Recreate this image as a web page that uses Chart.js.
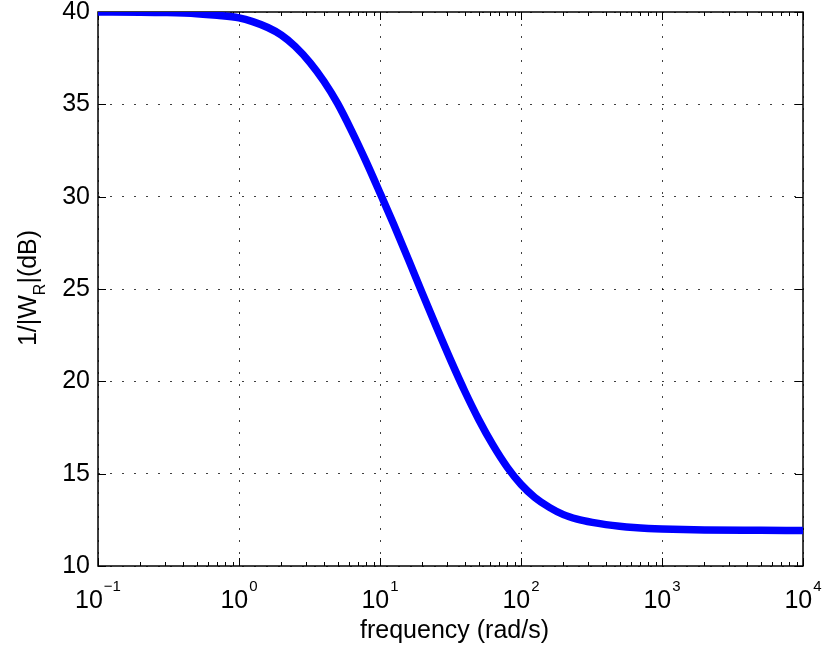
<!DOCTYPE html>
<html>
<head>
<meta charset="utf-8">
<script src="https://cdn.jsdelivr.net/npm/chart.js@4"></script>
<style>
    html, body { margin: 0; padding: 0; background: #fff; }
    canvas { display: block; }
</style>
</head>
<body>
<canvas id="myChart" width="824" height="648"></canvas>
<script>
// data
const freq = [0.1, 0.2, 0.3, 0.5, 0.7, 1, 1.25, 1.6, 2, 2.5, 3.2, 4, 5, 6.3, 8,
    10, 12.5, 16, 20, 25, 32, 40, 50, 63, 80,
    100, 125, 160, 200, 250, 320, 400, 500, 630, 800,
    1000, 2000, 5000, 10000];
const magDb = [40.0, 39.99, 39.97, 39.91, 39.82, 39.68, 39.48, 39.16, 38.75, 38.14, 37.25, 36.25, 35.05, 33.55, 31.87,
    30.2, 28.5, 26.55, 24.75, 22.98, 21.08, 19.45, 17.95, 16.57, 15.34,
    14.42, 13.72, 13.16, 12.78, 12.54, 12.36, 12.24, 12.15, 12.08, 12.03,
    12.0, 11.95, 11.93, 11.92];

const xTickValues = [0.1, 1, 10, 100, 1000, 10000];
const xTickExp = ['\u22121', '0', '1', '2', '3', '4'];
const yTickValues = [10, 15, 20, 25, 30, 35, 40];
const xTitle = 'frequency (rad/s)';
const yTitleParts = ['1/|W', 'R', '|(dB)'];

const FONT = '"Liberation Sans", Arial, Helvetica, sans-serif';

// box, inward ticks and the labels matlab style
const matlabAxes = {
    id: 'matlabAxes',
    beforeDatasetsDraw(chart) {
        const ctx = chart.ctx;
        const a = chart.chartArea;
        const xs = chart.scales.x;
        const ys = chart.scales.y;
        ctx.save();
        ctx.strokeStyle = '#000';
        ctx.lineWidth = 1.5;
        ctx.strokeRect(a.left, a.top, a.right - a.left, a.bottom - a.top);

        ctx.lineWidth = 1;
        ctx.beginPath();
        // x ticks, major and minor
        for (let i = 0; i < xTickValues.length; i++) {
            const base = xTickValues[i];
            for (let k = 1; k <= 9; k++) {
                const v = base * k;
                if (v > xTickValues[xTickValues.length - 1]) break;
                const px = Math.round(xs.getPixelForValue(v)) + 0.5;
                const len = k === 1 ? 8 : 4;
                ctx.moveTo(px, a.bottom);
                ctx.lineTo(px, a.bottom - len);
                ctx.moveTo(px, a.top);
                ctx.lineTo(px, a.top + len);
            }
        }
        // y ticks
        yTickValues.forEach(function (v) {
            const py = Math.round(ys.getPixelForValue(v)) + 0.5;
            ctx.moveTo(a.left, py);
            ctx.lineTo(a.left + 8, py);
            ctx.moveTo(a.right, py);
            ctx.lineTo(a.right - 8, py);
        });
        ctx.stroke();
        ctx.restore();
    },
    afterDraw(chart) {
        const ctx = chart.ctx;
        const a = chart.chartArea;
        const xs = chart.scales.x;
        ctx.save();
        ctx.fillStyle = '#000';
        ctx.textBaseline = 'alphabetic';
        ctx.textAlign = 'left';

        // x tick labels 10^n
        xTickValues.forEach(function (v, i) {
            const px = xs.getPixelForValue(v);
            ctx.font = '25px ' + FONT;
            const w1 = ctx.measureText('10').width;
            ctx.font = '15px ' + FONT;
            const w2 = ctx.measureText(xTickExp[i]).width;
            const x0 = px - (w1 + 1 + w2) / 2;
            ctx.font = '25px ' + FONT;
            ctx.fillText('10', x0, 608);
            ctx.font = '15px ' + FONT;
            ctx.fillText(xTickExp[i], x0 + w1 + 1, 591);
        });

        // x title
        ctx.font = '25px ' + FONT;
        ctx.textAlign = 'center';
        ctx.fillText(xTitle, (a.left + a.right) / 2 + 4, 638);

        // y title with subscript
        ctx.textAlign = 'left';
        ctx.translate(36, 288);
        ctx.rotate(-Math.PI / 2);
        ctx.font = '25px ' + FONT;
        const p0 = ctx.measureText(yTitleParts[0]).width;
        const p2 = ctx.measureText(yTitleParts[2]).width;
        ctx.font = '16px ' + FONT;
        const p1 = ctx.measureText(yTitleParts[1]).width;
        let x = -(p0 + p1 + p2) / 2;
        ctx.font = '25px ' + FONT;
        ctx.fillText(yTitleParts[0], x, 0);
        x += p0;
        ctx.font = '16px ' + FONT;
        ctx.fillText(yTitleParts[1], x, 9);
        x += p1;
        ctx.font = '25px ' + FONT;
        ctx.fillText(yTitleParts[2], x, 0);
        ctx.restore();
    }
};

const ctx = document.getElementById('myChart').getContext('2d');

const myChart = new Chart(ctx, {
    type: 'line',
    data: {
        datasets: [{
            data: freq.map((f, i) => ({ x: f, y: magDb[i] })),
            borderColor: '#0000ff',
            borderWidth: 7.5,
            pointRadius: 0,
            fill: false,
            cubicInterpolationMode: 'monotone'
        }]
    },
    options: {
        responsive: false,
        animation: false,
        devicePixelRatio: 1,
        layout: { padding: { top: 12, right: 21, left: 0, bottom: 0 } },
        plugins: {
            legend: { display: false },
            tooltip: { enabled: false }
        },
        scales: {
            x: {
                type: 'logarithmic',
                min: 0.1,
                max: 10000,
                afterBuildTicks: function (scale) {
                    scale.ticks = xTickValues.map(v => ({ value: v }));
                },
                afterFit: function (scale) {
                    scale.height = 82;
                    scale.paddingLeft = 0;
                    scale.paddingRight = 0;
                },
                ticks: { display: false },
                grid: { color: 'rgba(0,0,0,0.75)', lineWidth: 1, drawTicks: false },
                border: { display: false, dash: [2, 10] }
            },
            y: {
                type: 'linear',
                min: 10,
                max: 40,
                afterBuildTicks: function (scale) {
                    scale.ticks = yTickValues.map(v => ({ value: v }));
                },
                afterFit: function (scale) {
                    scale.width = 98;
                    scale.paddingTop = 0;
                    scale.paddingBottom = 0;
                },
                ticks: {
                    color: '#000',
                    padding: 8,
                    font: { family: FONT, size: 25 }
                },
                grid: { color: 'rgba(0,0,0,0.75)', lineWidth: 1, drawTicks: false },
                border: { display: false, dash: [2, 10] }
            }
        }
    },
    plugins: [matlabAxes]
});
</script>
</body>
</html>
